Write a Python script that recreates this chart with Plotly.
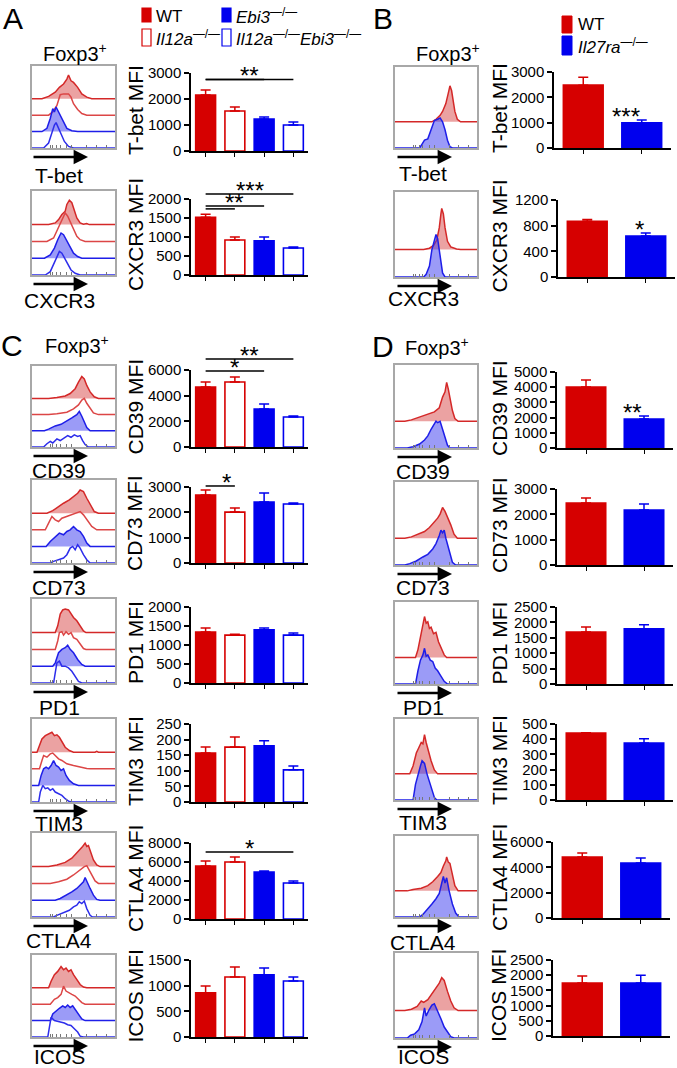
import plotly.graph_objects as go

W, H = 677, 1068

# ------------------------------------------------------------------ data
GROUPS_AC = ["WT", "Il12a-/-", "Ebi3-/-", "Il12a-/-Ebi3-/-"]
GROUPS_BD = ["WT", "Il27ra-/-"]
MARKERS = ["T-bet", "CXCR3", "CD39", "CD73", "PD1", "TIM3", "CTLA4", "ICOS"]

MFI_LEFT = {
    "T-bet": [2150, 1540, 1230, 1000],
    "CXCR3": [1520, 920, 900, 710],
    "CD39": [4680, 5070, 2960, 2340],
    "CD73": [2680, 2010, 2410, 2330],
    "PD1": [1340, 1260, 1400, 1260],
    "TIM3": [157, 176, 180, 103],
    "CTLA4": [5580, 6000, 4950, 3790],
    "ICOS": [860, 1170, 1210, 1090],
}
SEM_LEFT = {
    "T-bet": [200, 150, 80, 115],
    "CXCR3": [80, 80, 100, 30],
    "CD39": [390, 390, 390, 80],
    "CD73": [200, 160, 350, 40],
    "PD1": [105, 25, 50, 55],
    "TIM3": [19, 32, 16, 12],
    "CTLA4": [520, 520, 100, 210],
    "ICOS": [135, 195, 135, 80],
}
MFI_RIGHT = {
    "T-bet": [2480, 990],
    "CXCR3": [870, 640],
    "CD39": [4010, 1910],
    "CD73": [2450, 2170],
    "PD1": [1690, 1790],
    "TIM3": [440, 375],
    "CTLA4": [4810, 4340],
    "ICOS": [1740, 1740],
}
SEM_RIGHT = {
    "T-bet": [310, 115],
    "CXCR3": [25, 45],
    "CD39": [460, 200],
    "CD73": [195, 240],
    "PD1": [160, 130],
    "TIM3": [3, 28],
    "CTLA4": [320, 390],
    "ICOS": [230, 260],
}
YTICKS_LEFT = {  # (top tick, step)
    "T-bet": (3000, 1000), "CXCR3": (2000, 500), "CD39": (6000, 2000), "CD73": (3000, 1000),
    "PD1": (2000, 500), "TIM3": (250, 50), "CTLA4": (8000, 2000), "ICOS": (1500, 500),
}
YTICKS_RIGHT = {
    "T-bet": (3000, 1000), "CXCR3": (1200, 400), "CD39": (5000, 1000), "CD73": (3000, 1000),
    "PD1": (2500, 500), "TIM3": (500, 100), "CTLA4": (6000, 2000), "ICOS": (2500, 500),
}
SIG_LEFT = {  # (group i, group j, bracket level, stars)
    "T-bet": [(0, 2, 2750, ""), (0, 3, 2750, "**")],
    "CXCR3": [(0, 1, 1740, ""), (0, 2, 1815, "**"), (0, 3, 2130, "***")],
    "CD39": [(0, 3, 6850, "**"), (0, 2, 5920, "*")],
    "CD73": [(0, 1, 3040, "*")],
    "CTLA4": [(0, 3, 7050, "*")],
}
SIG_RIGHT = {"T-bet": "***", "CXCR3": "*", "CD39": "**"}

# flow histograms: (x in % of axis, height in stack units), top curve first
HIST_LEFT = {
    "T-bet": [
        [(0, 0), (12, 0), (20, 0.15), (28, 0.4), (33, 0.7), (38, 0.9), (42, 1.2), (44, 1.45), (47, 1.1), (50, 1.0), (55, 0.7), (60, 0.3), (66, 0.1), (72, 0), (100, 0)],
        [(0, 0), (20, 0), (25, 0.2), (30, 0.6), (34, 1.25), (38, 1.3), (44, 1.3), (47, 1.1), (50, 0.7), (55, 0.35), (60, 0.1), (66, 0), (100, 0)],
        [(0, 0), (12, 0), (18, 0.2), (22, 0.8), (25, 1.4), (27, 1.2), (29, 1.5), (31, 1.3), (34, 0.9), (38, 0.5), (42, 0.2), (48, 0.05), (55, 0), (100, 0)],
        [(0, 0), (14, 0), (20, 0.3), (24, 0.9), (27, 1.4), (29, 1.55), (31, 1.3), (35, 0.8), (39, 0.4), (44, 0.1), (50, 0), (100, 0)],
    ],
    "CXCR3": [
        [(0, 0), (20, 0), (28, 0.1), (32, 0.3), (36, 0.6), (40, 0.8), (42, 1.2), (45, 1.45), (48, 1.3), (51, 0.9), (54, 0.4), (58, 0.1), (62, 0.02), (66, 0.06), (69, 0), (100, 0)],
        [(0, 0), (18, 0), (26, 0.2), (30, 0.6), (34, 1.0), (37, 1.3), (40, 1.7), (43, 1.5), (46, 1.2), (50, 0.7), (54, 0.3), (58, 0.1), (64, 0), (100, 0)],
        [(0, 0), (15, 0), (22, 0.2), (27, 0.6), (31, 1.1), (35, 1.5), (38, 1.4), (42, 1.0), (46, 0.6), (50, 0.3), (55, 0.1), (60, 0), (100, 0)],
        [(0, 0), (16, 0), (22, 0.2), (26, 0.6), (30, 1.0), (33, 1.4), (36, 1.3), (39, 1.0), (43, 0.6), (47, 0.3), (52, 0.1), (58, 0), (100, 0)],
    ],
    "CD39": [
        [(0, 0), (20, 0), (30, 0.05), (40, 0.15), (46, 0.3), (52, 0.6), (56, 1.0), (60, 1.35), (63, 1.2), (66, 0.8), (70, 0.4), (75, 0.1), (80, 0), (100, 0)],
        [(0, 0), (20, 0), (30, 0.05), (42, 0.15), (50, 0.35), (56, 0.6), (60, 0.9), (63, 1.0), (66, 0.7), (70, 0.4), (74, 0.1), (80, 0), (100, 0)],
        [(0, 0), (15, 0), (20, 0.1), (28, 0.3), (35, 0.4), (42, 0.6), (48, 0.8), (54, 1.0), (57, 1.2), (60, 0.9), (63, 0.5), (66, 0.2), (70, 0), (100, 0)],
        [(0, 0), (14, 0), (18, 0.2), (22, 0.35), (25, 0.25), (30, 0.5), (34, 0.4), (38, 0.55), (43, 0.7), (47, 0.6), (51, 0.75), (55, 0.65), (58, 0.7), (61, 0.4), (64, 0.15), (68, 0), (100, 0)],
    ],
    "CD73": [
        [(0, 0), (18, 0), (25, 0.15), (32, 0.4), (38, 0.6), (45, 0.8), (50, 1.0), (55, 1.2), (58, 1.4), (62, 1.3), (66, 0.9), (70, 0.5), (75, 0.1), (80, 0), (100, 0)],
        [(0, 0), (16, 0), (20, 0.4), (24, 0.8), (28, 0.6), (32, 0.5), (36, 0.7), (42, 0.8), (48, 0.9), (54, 1.0), (58, 1.1), (62, 0.9), (66, 0.6), (72, 0.2), (78, 0), (100, 0)],
        [(0, 0), (17, 0), (22, 0.3), (28, 0.6), (33, 0.8), (38, 0.7), (42, 0.9), (46, 1.0), (50, 1.2), (54, 1.0), (58, 0.9), (62, 0.6), (66, 0.2), (70, 0), (100, 0)],
        [(0, 0), (22, 0), (26, 0.1), (32, 0.2), (38, 0.3), (42, 0.5), (46, 0.9), (49, 1.0), (52, 0.8), (55, 1.1), (58, 0.9), (62, 0.5), (66, 0.2), (70, 0), (100, 0)],
    ],
    "PD1": [
        [(0, 0), (28, 0), (31, 0.4), (34, 1.1), (37, 1.35), (40, 1.4), (44, 1.35), (47, 1.1), (50, 0.9), (54, 0.7), (58, 0.4), (62, 0.1), (65, 0), (100, 0)],
        [(0, 0), (28, 0), (31, 0.5), (33, 1.0), (36, 1.05), (38, 0.85), (41, 1.05), (44, 0.9), (47, 1.0), (50, 0.7), (54, 0.6), (58, 0.3), (62, 0.05), (65, 0), (100, 0)],
        [(0, 0), (25, 0), (28, 0.2), (32, 0.8), (36, 1.0), (40, 1.1), (43, 1.25), (46, 1.0), (50, 0.8), (55, 0.4), (60, 0.1), (64, 0), (100, 0)],
        [(0, 0), (26, 0), (28, 0.6), (30, 1.2), (33, 1.3), (36, 1.0), (40, 1.0), (44, 0.9), (48, 0.7), (52, 0.4), (56, 0.1), (60, 0), (100, 0)],
    ],
    "TIM3": [
        [(0, 0), (6, 0), (9, 0.4), (12, 0.8), (16, 1.0), (20, 1.1), (24, 1.2), (27, 1.0), (30, 1.05), (33, 0.9), (36, 0.6), (40, 0.3), (45, 0.1), (50, 0), (76, 0), (78, 0.05), (80, 0), (100, 0)],
        [(0, 0), (9, 0), (12, 0.5), (14, 0.8), (18, 0.7), (22, 0.9), (25, 0.95), (28, 0.8), (32, 0.6), (36, 0.5), (42, 0.3), (50, 0.2), (58, 0.1), (66, 0.02), (70, 0), (100, 0)],
        [(0, 0), (8, 0), (11, 0.6), (14, 1.0), (17, 1.1), (20, 1.0), (23, 1.2), (26, 1.5), (29, 1.2), (32, 1.1), (35, 0.9), (38, 1.0), (41, 0.6), (45, 0.3), (50, 0.1), (56, 0), (100, 0)],
        [(0, 0), (8, 0), (10, 0.6), (13, 1.0), (16, 0.8), (19, 0.85), (22, 0.7), (25, 0.8), (28, 0.6), (32, 0.5), (36, 0.4), (40, 0.2), (44, 0.05), (48, 0), (100, 0)],
    ],
    "CTLA4": [
        [(0, 0), (20, 0), (30, 0.1), (40, 0.25), (48, 0.5), (54, 0.8), (58, 1.0), (61, 1.2), (64, 1.4), (66, 1.2), (68, 1.25), (71, 0.8), (74, 0.4), (78, 0.1), (82, 0), (100, 0)],
        [(0, 0), (22, 0), (32, 0.1), (42, 0.25), (50, 0.5), (56, 0.75), (60, 0.9), (63, 1.0), (66, 1.05), (69, 0.8), (72, 0.5), (76, 0.15), (80, 0), (100, 0)],
        [(0, 0), (28, 0), (34, 0.1), (42, 0.3), (48, 0.5), (54, 0.7), (58, 0.9), (62, 1.1), (64, 1.35), (67, 1.0), (70, 0.7), (74, 0.3), (78, 0.05), (82, 0), (100, 0)],
        [(0, 0), (26, 0), (30, 0.1), (35, 0.2), (40, 0.3), (45, 0.4), (50, 0.6), (54, 0.7), (57, 0.9), (60, 0.8), (63, 0.95), (66, 0.5), (70, 0.1), (73, 0), (100, 0)],
    ],
    "ICOS": [
        [(0, 0), (20, 0), (23, 0.4), (27, 0.8), (31, 1.0), (35, 1.3), (38, 1.1), (41, 1.2), (44, 1.0), (47, 1.1), (50, 0.8), (54, 0.5), (58, 0.2), (62, 0.05), (66, 0), (100, 0)],
        [(0, 0), (22, 0), (27, 0.3), (31, 0.4), (35, 0.6), (38, 1.1), (41, 0.8), (44, 0.7), (48, 0.6), (52, 0.5), (56, 0.3), (60, 0.1), (64, 0), (100, 0)],
        [(0, 0), (22, 0), (25, 0.4), (29, 0.6), (33, 0.75), (37, 0.9), (40, 0.8), (43, 0.95), (46, 0.8), (49, 0.9), (52, 0.7), (56, 0.4), (60, 0.1), (64, 0), (100, 0)],
        [(0, 0), (19, 0), (21, 0.6), (23, 1.2), (27, 1.0), (31, 0.95), (35, 0.9), (39, 0.85), (43, 0.75), (47, 0.7), (51, 0.5), (55, 0.3), (58, 0.05), (62, 0), (100, 0)],
    ],
}
HIST_RIGHT = {
    "T-bet": [
        [(0, 0), (45, 0), (50, 0.1), (55, 0.25), (58, 0.4), (62, 0.7), (65, 1.1), (67, 1.38), (69, 1.2), (71, 0.8), (73, 0.4), (76, 0.1), (80, 0), (100, 0)],
        [(0, 0), (30, 0), (33, 0.15), (36, 0.3), (40, 0.35), (44, 0.7), (48, 1.05), (52, 1.1), (55, 1.15), (58, 1.0), (61, 0.7), (64, 0.3), (67, 0.05), (70, 0), (100, 0)],
    ],
    "CXCR3": [
        [(0, 0), (35, 0), (42, 0.05), (47, 0.15), (51, 0.35), (54, 0.8), (56, 1.3), (57, 1.5), (59, 1.3), (61, 0.8), (64, 0.3), (68, 0.1), (75, 0.02), (80, 0), (100, 0)],
        [(0, 0), (35, 0), (38, 0.1), (42, 0.4), (45, 1.0), (48, 1.3), (50, 1.55), (52, 1.4), (54, 1.0), (56, 0.5), (58, 0.15), (61, 0), (100, 0)],
    ],
    "CD39": [
        [(0, 0), (12, 0), (20, 0.05), (30, 0.15), (40, 0.25), (48, 0.35), (54, 0.5), (58, 0.9), (61, 1.1), (63, 1.45), (65, 1.2), (67, 0.9), (70, 0.4), (73, 0.1), (77, 0), (100, 0)],
        [(0, 0), (15, 0), (22, 0.05), (30, 0.15), (36, 0.3), (40, 0.45), (44, 0.7), (48, 0.9), (50, 1.0), (52, 0.95), (55, 1.0), (58, 0.7), (61, 0.4), (64, 0.1), (67, 0), (100, 0)],
    ],
    "CD73": [
        [(0, 0), (12, 0), (20, 0.05), (28, 0.15), (36, 0.25), (42, 0.4), (48, 0.6), (52, 0.75), (55, 0.9), (58, 1.15), (61, 1.0), (64, 0.8), (68, 0.5), (72, 0.15), (76, 0), (100, 0)],
        [(0, 0), (12, 0), (18, 0.05), (26, 0.15), (34, 0.3), (40, 0.4), (46, 0.6), (50, 0.8), (54, 1.1), (56, 1.3), (58, 1.2), (60, 1.3), (62, 1.0), (66, 0.5), (70, 0.1), (74, 0), (100, 0)],
    ],
    "PD1": [
        [(0, 0), (25, 0), (28, 0.3), (31, 0.8), (34, 1.2), (36, 1.55), (38, 1.3), (40, 1.35), (42, 1.1), (44, 1.15), (47, 0.9), (50, 0.95), (53, 0.6), (56, 0.4), (60, 0.1), (63, 0), (100, 0)],
        [(0, 0), (25, 0), (28, 0.5), (31, 0.9), (34, 1.1), (36, 1.35), (38, 1.05), (40, 1.1), (43, 0.9), (46, 0.85), (49, 0.6), (52, 0.5), (56, 0.3), (60, 0.1), (64, 0), (100, 0)],
    ],
    "TIM3": [
        [(0, 0), (18, 0), (22, 0.3), (26, 0.8), (29, 1.0), (32, 1.2), (34, 1.15), (36, 1.5), (38, 1.2), (41, 0.8), (44, 0.5), (48, 0.15), (52, 0), (100, 0)],
        [(0, 0), (22, 0), (25, 0.6), (28, 1.0), (31, 1.3), (33, 1.5), (36, 1.4), (39, 1.0), (42, 0.7), (45, 0.4), (48, 0.1), (51, 0), (100, 0)],
    ],
    "CTLA4": [
        [(0, 0), (15, 0), (22, 0.05), (32, 0.1), (40, 0.2), (46, 0.35), (52, 0.55), (56, 0.7), (59, 0.95), (62, 1.15), (63, 1.3), (65, 1.1), (67, 1.05), (70, 0.6), (73, 0.2), (77, 0), (100, 0)],
        [(0, 0), (30, 0), (34, 0.1), (40, 0.3), (45, 0.5), (50, 0.7), (54, 0.9), (57, 1.3), (59, 1.55), (61, 1.3), (63, 1.5), (66, 1.0), (70, 0.5), (74, 0.15), (78, 0), (100, 0)],
    ],
    "ICOS": [
        [(0, 0), (12, 0), (20, 0.05), (27, 0.15), (32, 0.35), (35, 0.3), (40, 0.4), (45, 0.6), (50, 0.8), (54, 1.0), (57, 1.2), (60, 1.1), (64, 0.7), (68, 0.35), (72, 0.1), (77, 0), (100, 0)],
        [(0, 0), (15, 0), (19, 0.1), (24, 0.15), (29, 0.3), (33, 0.6), (36, 1.1), (38, 0.8), (41, 1.0), (45, 1.2), (48, 1.25), (52, 1.0), (56, 0.7), (60, 0.4), (64, 0.2), (68, 0.05), (72, 0), (100, 0)],
    ],
}
HIST_TICKS = [22, 25, 30, 34, 42, 48, 66, 78, 90]

# ------------------------------------------------------------------ layout (pixels)
FONT = "Liberation Sans, Arial, Helvetica, sans-serif"
RED = "rgb(214,0,0)"
BLUE = "rgb(0,0,238)"

LEFT_HIST_X = (32, 115)
RIGHT_HIST_X = (395, 477)
LEFT_BAR_X = (191, 308)
# marker: (hist top, hist bottom, bar top, bar zero, label y)
LEFT_ROWS = {
    "T-bet": (66, 148, 73, 151, 175),
    "CXCR3": (191, 275, 199, 275, 300),
    "CD39": (366, 447, 370, 447, 470),
    "CD73": (480, 563, 487, 563, 587),
    "PD1": (599, 683, 607, 683, 707),
    "TIM3": (719, 802, 724, 802, 823),
    "CTLA4": (833, 917, 843, 919, 940),
    "ICOS": (955, 1037, 960, 1037, 1056),
}
# marker: (hist top, hist bottom, bar top, bar zero, label y, bar x0, bar x1)
RIGHT_ROWS = {
    "T-bet": (67, 148, 72, 148, 173, 554, 671),
    "CXCR3": (192, 277, 200, 277, 298, 558, 675),
    "CD39": (365, 448, 372, 448, 471, 557, 673),
    "CD73": (482, 565, 489, 565, 587, 557, 673),
    "PD1": (602, 684, 607, 684, 707, 557, 673),
    "TIM3": (719, 800, 724, 800, 822, 557, 673),
    "CTLA4": (836, 917, 842, 918, 942, 553, 670),
    "ICOS": (953, 1038, 960, 1036, 1056, 553, 670),
}

fig = go.Figure()
LAYOUT = {}
ANN = []
SHAPES = []
counter = [0]


def px_x(v):
    return v / W


def px_y(v):
    return 1 - v / H


def add_axes(x0, x1, top, bottom, xa, ya):
    counter[0] += 1
    i = counter[0]
    sx = "" if i == 1 else str(i)
    LAYOUT["xaxis" + sx] = dict(xa, domain=[x0 / W, x1 / W], anchor="y" + sx, automargin=False)
    LAYOUT["yaxis" + sx] = dict(ya, domain=[1 - bottom / H, 1 - top / H], anchor="x" + sx, automargin=False)
    return "x" + sx, "y" + sx


def text(x, y, s, size, xanchor="center", yanchor="middle", angle=0):
    ANN.append(dict(x=px_x(x), y=px_y(y), xref="paper", yref="paper", text=s, showarrow=False,
                    xanchor=xanchor, yanchor=yanchor, textangle=angle,
                    font=dict(family=FONT, size=size, color="black")))


def arrow(x0, x1, y):
    ANN.append(dict(x=px_x(x1), y=px_y(y), xref="paper", yref="paper", text="", showarrow=True,
                    ax=-(x1 - x0), ay=0, arrowhead=2, arrowsize=1.2, arrowwidth=2.4, arrowcolor="black"))


STAR_SIZE = 24
STAR_SHIFT = -12


def bar_panel(marker, vals, errs, fills, lines, bx0, bx1, btop, bzero, yt, title_x, sig=None, star=None):
    top, step = yt
    n = len(vals)
    xr = [-0.5, n - 0.5]
    xref, yref = add_axes(
        bx0, bx1, btop, bzero,
        dict(range=xr, showline=True, linecolor="black", linewidth=1.5, ticks="outside", ticklen=4,
             tickwidth=1.2, tickcolor="black", tickvals=list(range(n)), ticktext=[""] * n,
             showgrid=False, zeroline=False, fixedrange=True),
        dict(range=[0, top], tickvals=list(range(0, top + 1, step)), ticks="outside", ticklen=5,
             tickwidth=1.5, tickcolor="black", showline=True, linecolor="black", linewidth=1.5,
             showgrid=False, zeroline=False, fixedrange=True,
             tickfont=dict(family=FONT, size=15, color="black")))
    for k in range(n):
        fig.add_trace(go.Bar(
            x=[k], y=[vals[k]], width=0.68, xaxis=xref, yaxis=yref,
            marker=dict(color=fills[k], line=dict(color=lines[k], width=1.6)),
            error_y=dict(type="data", symmetric=False, array=[errs[k]], arrayminus=[0],
                         color=lines[k], thickness=1.5, width=5),
            showlegend=False, hoverinfo="skip"))

    def dx(v):
        return px_x(bx0 + (v - xr[0]) / (xr[1] - xr[0]) * (bx1 - bx0))

    def dy(v):
        return px_y(bzero - v / top * (bzero - btop))

    text(title_x, (btop + bzero) / 2 - 2, marker + " MFI", 21, angle=-90)
    if sig:
        for (i, j, lev, stars) in sig:
            SHAPES.append(dict(type="line", xref="paper", yref="paper", x0=dx(i), x1=dx(j),
                               y0=dy(lev), y1=dy(lev), line=dict(color="black", width=1.5)))
            if stars:
                ANN.append(dict(x=(dx(i) + dx(j)) / 2, y=dy(lev), xref="paper", yref="paper",
                                text=stars, showarrow=False, yanchor="bottom", yshift=STAR_SHIFT,
                                font=dict(family=FONT, size=STAR_SIZE, color="black")))
    if star:
        k = 1
        ANN.append(dict(x=dx(k), y=dy(vals[k] + errs[k]), xref="paper", yref="paper",
                        text=star, showarrow=False, yanchor="bottom", yshift=STAR_SHIFT,
                        font=dict(family=FONT, size=STAR_SIZE, color="black")))


HIST_STYLE_AC = [  # (line colour, fill colour or None)
    ("rgb(212,40,40)", "rgba(215,70,70,0.5)"),
    ("rgb(220,70,70)", None),
    ("rgb(30,30,232)", "rgba(55,55,240,0.5)"),
    ("rgb(45,45,235)", None),
]
HIST_STYLE_BD = [
    ("rgb(212,40,40)", "rgba(215,70,70,0.5)"),
    ("rgb(30,30,232)", "rgba(55,55,240,0.5)"),
]


def hist_panel(curves, styles, hx0, hx1, htop, hbottom, yr):
    xref, yref = add_axes(
        hx0, hx1, htop, hbottom,
        dict(range=[0, 100], showline=True, mirror=True, linecolor="#a8a8a8", linewidth=1.5,
             ticks="inside", ticklen=3, tickcolor="#777777", tickwidth=1, tickvals=HIST_TICKS,
             showticklabels=False, showgrid=False, zeroline=False, fixedrange=True),
        dict(range=[0, yr], showline=True, mirror=True, linecolor="#a8a8a8", linewidth=1.5,
             showticklabels=False, ticks="", showgrid=False, zeroline=False, fixedrange=True))
    n = len(curves)
    for k, pts in enumerate(curves):
        off = n - 1 - k
        lc, fc = styles[k]
        tr = dict(x=[p[0] for p in pts], y=[off + p[1] for p in pts], mode="lines",
                  line=dict(color=lc, width=1.5), xaxis=xref, yaxis=yref,
                  showlegend=False, hoverinfo="skip")
        if fc:
            tr.update(fill="toself", fillcolor=fc)
        fig.add_trace(go.Scatter(**tr))


# ---------------- left column (A, C)
for m in MARKERS:
    ht, hb, bt, bz, ly = LEFT_ROWS[m]
    hist_panel(HIST_LEFT[m], HIST_STYLE_AC, LEFT_HIST_X[0], LEFT_HIST_X[1], ht, hb, 5.0)
    arrow(LEFT_HIST_X[0], 88, hb + 9)
    text(59, ly, m, 21)
    bar_panel(m, MFI_LEFT[m], SEM_LEFT[m], [RED, "white", BLUE, "white"], [RED, RED, BLUE, BLUE],
              LEFT_BAR_X[0], LEFT_BAR_X[1], bt, bz, YTICKS_LEFT[m], 135, sig=SIG_LEFT.get(m))

# ---------------- right column (B, D)
for m in MARKERS:
    ht, hb, bt, bz, ly, bx0, bx1 = RIGHT_ROWS[m]
    hist_panel(HIST_RIGHT[m], HIST_STYLE_BD, RIGHT_HIST_X[0], RIGHT_HIST_X[1], ht, hb, 3.1)
    arrow(RIGHT_HIST_X[0] + 1, 452, hb + 9)
    text(423, ly, m, 21)
    bar_panel(m, MFI_RIGHT[m], SEM_RIGHT[m], [RED, BLUE], [RED, BLUE],
              bx0, bx1, bt, bz, YTICKS_RIGHT[m], 499, star=SIG_RIGHT.get(m))

# ---------------- panel letters and headers
text(13, 18, "A", 30)
text(383, 18, "B", 30)
text(12, 345, "C", 30)
text(383, 347, "D", 30)
text(75, 52, "Foxp3<sup>+</sup>", 20)
text(448, 52, "Foxp3<sup>+</sup>", 20)
text(77, 344, "Foxp3<sup>+</sup>", 20)
text(437, 346, "Foxp3<sup>+</sup>", 20)


def sup_label(g):
    parts = g.split("-/-")
    out = ""
    for p in parts[:-1]:
        out += "<i>" + p + "</i><sup>—/—</sup>"
    return out + parts[-1]


# legend A
LEG_A = [(142, 8, 22, 0), (222, 8, 22, 2), (142, 29, 46, 1), (222, 29, 46, 3)]
for (lx, ty, by, gi) in LEG_A:
    filled = gi in (0, 2)
    col = RED if gi < 2 else BLUE
    SHAPES.append(dict(type="rect", xref="paper", yref="paper", x0=px_x(lx), x1=px_x(lx + 9),
                       y0=px_y(by), y1=px_y(ty), fillcolor=col if filled else "white",
                       line=dict(color=col, width=1.2)))
    g = GROUPS_AC[gi]
    label = g if g == "WT" else sup_label(g)
    text(lx + 12, (ty + by) / 2 + 1, label, 17, xanchor="left")

# legend B
LEG_B = [(562, 16, 33, 0), (562, 36, 55, 1)]
for (lx, ty, by, gi) in LEG_B:
    col = RED if gi == 0 else BLUE
    SHAPES.append(dict(type="rect", xref="paper", yref="paper", x0=px_x(lx), x1=px_x(lx + 10),
                       y0=px_y(by), y1=px_y(ty), fillcolor=col, line=dict(color=col, width=1)))
    g = GROUPS_BD[gi]
    label = g if g == "WT" else sup_label(g)
    text(lx + 14, (ty + by) / 2, label, 17, xanchor="left")

LAYOUT.update(dict(
    width=W, height=H, margin=dict(l=0, r=0, t=0, b=0, pad=0, autoexpand=False),
    paper_bgcolor="white", plot_bgcolor="rgba(0,0,0,0)",
    barmode="overlay", showlegend=False,
    font=dict(family=FONT, color="black"),
    annotations=ANN, shapes=SHAPES,
))
fig.update_layout(**LAYOUT)
fig.write_html("out.html", config={"displayModeBar": False},
               post_script="document.body.style.margin='0';document.body.style.overflow='hidden';")
